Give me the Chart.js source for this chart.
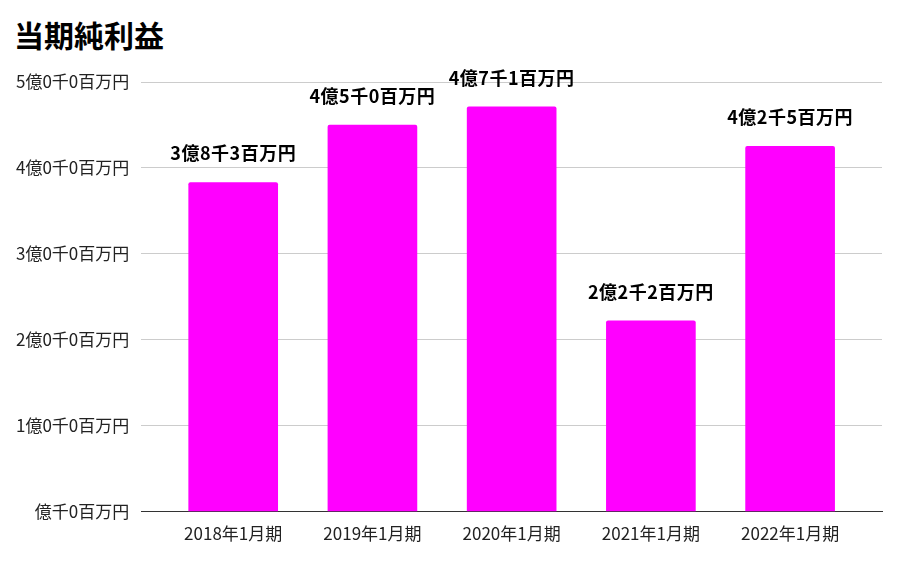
<!DOCTYPE html>
<html>
<head>
<meta charset="utf-8">
<script src="https://cdn.jsdelivr.net/npm/chart.js@4"></script>
<style>
  html, body { margin: 0; padding: 0; background: #fff; }
  #wrap { position: relative; width: 917px; height: 572px; }
  h1 { position: absolute; left: 14px; top: 19px; margin: 0; font: bold 30px/30px "Noto Sans CJK JP", sans-serif; color: #000; }
  canvas { position: absolute; left: 0; top: 0; }
</style>
</head>
<body>
<div id="wrap">
  <h1>当期純利益</h1>
  <canvas id="chart" width="917" height="572"></canvas>
</div>
<script>
const categories = ['2018年1月期', '2019年1月期', '2020年1月期', '2021年1月期', '2022年1月期'];
// 単位: 百万円
const profit = [383, 450, 471, 222, 425];
const valueLabels = ['3億8千3百万円', '4億5千0百万円', '4億7千1百万円', '2億2千2百万円', '4億2千5百万円'];
const yTicks = [0, 100, 200, 300, 400, 500];
const yTickLabels = ['億千0百万円', '1億0千0百万円', '2億0千0百万円', '3億0千0百万円', '4億0千0百万円', '5億0千0百万円'];

const font = '"Noto Sans CJK JP", sans-serif';

const barLabels = {
  id: 'barLabels',
  afterDatasetsDraw(chart) {
    const ctx = chart.ctx;
    const meta = chart.getDatasetMeta(0);
    ctx.save();
    ctx.font = 'bold 18px ' + font;
    ctx.letterSpacing = '0.5px';
    ctx.fillStyle = '#000';
    ctx.textAlign = 'center';
    ctx.textBaseline = 'middle';
    meta.data.forEach((bar, i) => {
      ctx.fillText(valueLabels[i], bar.x, bar.y - 29);
    });
    ctx.restore();
  }
};

new Chart(document.getElementById('chart'), {
  type: 'bar',
  data: {
    datasets: [{
      data: profit.map((v, i) => ({ x: i, y: v })),
      backgroundColor: '#ff00ff',
      barThickness: 89,
      borderRadius: { topLeft: 2, topRight: 2 },
      borderSkipped: 'bottom'
    }]
  },
  options: {
    responsive: false,
    animation: false,
    layout: { padding: { left: 4, right: 35, top: 82, bottom: 24 } },
    plugins: { legend: { display: false }, tooltip: { enabled: false } },
    scales: {
      x: {
        type: 'linear',
        offset: false,
        min: -0.66,
        max: 4.66,
        afterBuildTicks: axis => { axis.ticks = categories.map((c, i) => ({ value: i })); },
        ticks: {
          callback: v => categories[v],
          font: { family: font, size: 17 },
          color: '#222',
          padding: 4,
          maxRotation: 0
        },
        grid: { display: false },
        border: { color: '#333', width: 1 }
      },
      y: {
        min: 0,
        max: 500,
        afterBuildTicks: axis => { axis.ticks = yTicks.map(v => ({ value: v })); },
        ticks: {
          callback: v => yTickLabels[yTicks.indexOf(v)],
          font: { family: font, size: 17 },
          color: '#222',
          padding: 12
        },
        grid: { color: '#cccccc', drawTicks: false },
        border: { display: false }
      }
    }
  },
  plugins: [barLabels]
});
</script>
</body>
</html>
